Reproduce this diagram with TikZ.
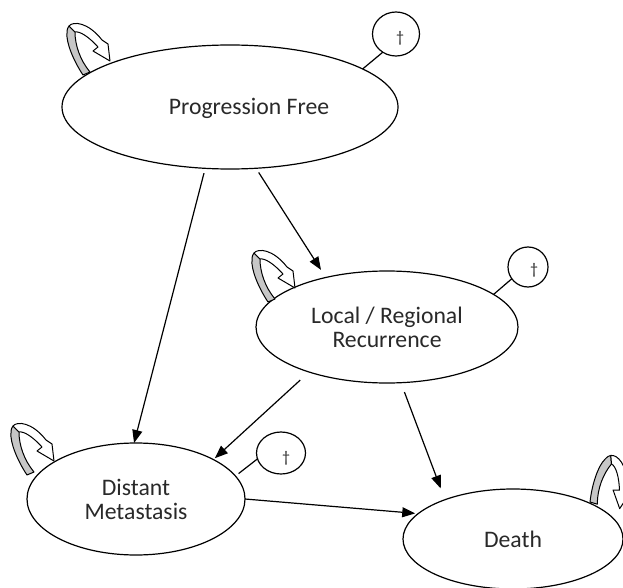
\documentclass[tikz,border=0pt]{standalone}
\usepackage{fontspec}
\setmainfont{Carlito}
\usetikzlibrary{shapes.geometric,arrows.meta}
\definecolor{txt}{rgb}{0.16,0.16,0.16}
\definecolor{loopgray}{rgb}{0.78,0.78,0.78}
\tikzset{
  selfloop/.pic={
    \filldraw[fill=loopgray, line width=1pt, line join=round]
      (0,0) .. controls (-10,-15) and (-17,-33) .. (-16,-42)
      .. controls (-16,-46) and (-15,-48) .. (-14,-49)
      -- (-8,-43) .. controls (-8,-30) and (-3,-15) .. (7,-3) -- cycle;
    \filldraw[fill=white, line width=1pt, line join=round]
      (-14,-49) .. controls (-10,-54) and (5,-53) .. (19,-35)
      -- (25,-31) -- (27,-14) -- (10,-24) -- (15,-28)
      .. controls (6,-38) and (-3,-44) .. (-8,-43) -- cycle;
  },
  state/.style={ellipse, draw, line width=1.2pt, inner sep=0pt, outer sep=0pt,
    align=center, text=txt, font=\fontsize{23.7}{24}\selectfont},
  plaintext/.style={inner sep=0pt, text=txt, font=\fontsize{23.7}{24}\selectfont},
  dcirc/.style={ellipse, draw, line width=1.2pt, inner sep=0pt, outer sep=0pt},
  dagtext/.style={inner sep=0pt, text=txt, font=\fontsize{16}{16}\selectfont},
  trans/.style={line width=1.2pt, -{Triangle[length=13pt,width=10pt]}},
  tie/.style={line width=1.2pt}
}
\begin{document}
\begin{tikzpicture}[x=1pt,y=-1pt]
\useasboundingbox (0,0) rectangle (623,588);
\clip (0,0) rectangle (623,588);
\fill[white] (0,0) rectangle (623,588);

% states
\node[state, minimum width=336pt, minimum height=124pt] (pf) at (230,107) {};
\node[plaintext] (pft) at (249,108) {Progression Free};
\node[state, minimum width=262pt, minimum height=112pt] (lr) at (387,327) {Local / Regional\\Recurrence};
\node[state, minimum width=218pt, minimum height=112pt] (dm) at (136,499) {Distant\\Metastasis};
\node[state, minimum width=220pt, minimum height=100pt] (de) at (513,539) {Death};

% death circles
\node[dcirc, minimum width=47pt, minimum height=44pt] (c1) at (396,34) {};
\node[dagtext] (g1) at (400,38) {†};
\node[dcirc, minimum width=40pt, minimum height=40pt] (c2) at (528,267) {};
\node[dagtext] (g2) at (534,270) {†};
\node[dcirc, minimum width=49pt, minimum height=42pt] (c3) at (281,453) {};
\node[dagtext] (g3) at (286,458) {†};

\draw[tie] (pf.16.3) -- (c1.-126);
\draw[tie] (lr.17.5) -- (c2.-144);
\draw[tie, shorten <=4pt] (dm.13.4) -- (c3.-166);

% transitions
\draw[trans, shorten <=5pt] (pf.-112) -- (dm.92);
\draw[trans, shorten <=5pt, shorten >=9pt] (pf.-67) -- (lr.141);
\draw[trans, shorten <=12pt, shorten >=2pt] (lr.-150) -- (dm.27);
\draw[trans, shorten <=10pt, shorten >=12pt] (lr.-76.5) -- (de.150);
\draw[trans, shorten >=3pt] (dm.0) -- (de.165.3);

% self loops
\pic at (83,75) {selfloop};
\pic at (268,302) {selfloop};
\pic at (27,475) {selfloop};
\pic[rotate=-40] at (590,502) {selfloop};
\end{tikzpicture}
\end{document}
